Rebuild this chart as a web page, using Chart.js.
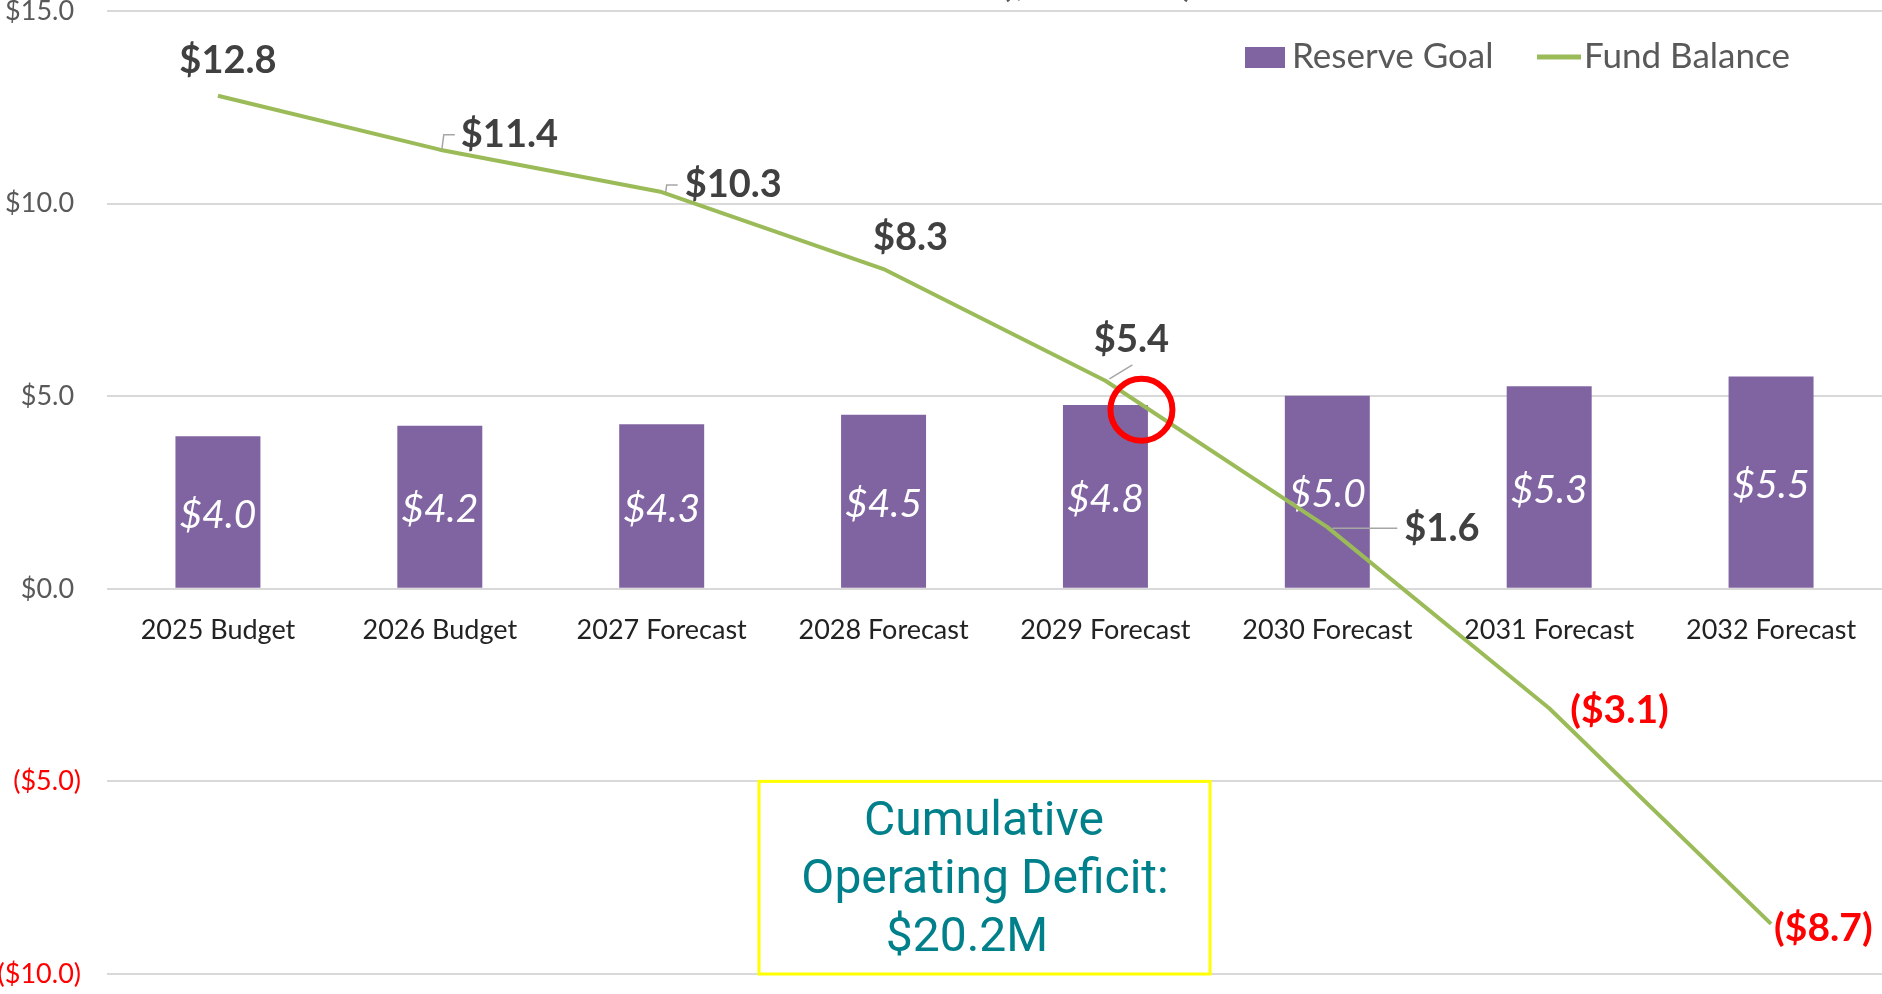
<!DOCTYPE html>
<html>
<head>
<meta charset="utf-8">
<script src="https://cdn.jsdelivr.net/npm/chart.js@4.4.1/dist/chart.umd.min.js"></script>
<style>
  html, body { margin: 0; padding: 0; background: #fff; }
  #wrap { width: 1882px; height: 994px; position: relative; }
</style>
</head>
<body>
<div id="wrap"><canvas id="fundChart"></canvas></div>
<script>
const categories = [
  "2025 Budget",
  "2026 Budget",
  "2027 Forecast",
  "2028 Forecast",
  "2029 Forecast",
  "2030 Forecast",
  "2031 Forecast",
  "2032 Forecast",
];
const reserveGoal = [3.96, 4.23, 4.27, 4.52, 4.77, 5.01, 5.26, 5.51];
const fundBalance = [12.8, 11.4, 10.3, 8.3, 5.4, 1.6, -3.1, -8.7];
const yTicks = [-10, -5, 0, 5, 10, 15];

const purple = "#8064a2";
const green = "#9bbb59";

// where each fund balance label sits, relative to its point
const lineLabelPos = [
  { align: "center", dx: 10, dy: -35 },
  { align: "left", dx: 21, dy: -15, leader: [[2, 0], [4, -15], [15, -15]] },
  { align: "left", dx: 23, dy: -7, leader: [[4, 0], [5, -7], [16, -7]] },
  { align: "center", dx: 27, dy: -31 },
  { align: "center", dx: 26, dy: -41, leader: [[4, -2], [27, -16]] },
  { align: "left", dx: 77, dy: 2, leader: [[5, 1], [70, 1]] },
  { align: "left", dx: 21, dy: 2 },
  { align: "left", dx: 3, dy: 4 },
];

function money(v) {
  const s = "$" + Math.abs(v).toFixed(1);
  return v < 0 ? "(" + s + ")" : s;
}

const overlay = {
  id: "overlay",
  afterDatasetDraw(chart, args) {
    if (args.index !== 0) return;
    const ctx = chart.ctx;
    ctx.save();
    ctx.font = "italic 39px Lato";
    ctx.fillStyle = "#ffffff";
    ctx.textAlign = "center";
    ctx.textBaseline = "middle";
    args.meta.data.forEach((bar, i) => {
      ctx.fillText(money(reserveGoal[i]), bar.x, (bar.y + bar.base) / 2 + 3);
    });
    ctx.restore();
  },
  afterDatasetsDraw(chart) {
    const ctx = chart.ctx;
    const pts = chart.getDatasetMeta(1).data;
    ctx.save();
    ctx.textBaseline = "middle";
    pts.forEach((p, i) => {
      const pos = lineLabelPos[i];
      if (pos.leader) {
        ctx.strokeStyle = "#a6a6a6";
        ctx.lineWidth = 1.5;
        ctx.beginPath();
        pos.leader.forEach((q, k) => {
          if (k === 0) ctx.moveTo(p.x + q[0], p.y + q[1]);
          else ctx.lineTo(p.x + q[0], p.y + q[1]);
        });
        ctx.stroke();
      }
      const neg = fundBalance[i] < 0;
      ctx.font = neg ? "bold 39px Lato" : "bold 38px Lato";
      ctx.textAlign = pos.align;
      ctx.fillStyle = neg ? "#ff0000" : "#404040";
      ctx.fillText(money(fundBalance[i]), p.x + pos.dx, p.y + pos.dy);
    });
    ctx.restore();
  },
  afterDraw(chart) {
    const ctx = chart.ctx;
    const x = chart.scales.x;
    const y = chart.scales.y;
    ctx.save();

    // title, mostly cut off at the top edge
    ctx.font = "bold 32px Lato";
    ctx.fillStyle = "#595959";
    ctx.textAlign = "center";
    ctx.textBaseline = "alphabetic";
    ctx.fillText("($ in Millions)", 1097, -3);

    // legend
    const ds = chart.data.datasets;
    ctx.font = "35px Lato";
    ctx.textAlign = "left";
    ctx.textBaseline = "middle";
    ctx.fillStyle = ds[0].backgroundColor;
    ctx.fillRect(1245, 47, 40, 21);
    ctx.fillStyle = "#595959";
    ctx.fillText(ds[0].label, 1292, 57);
    ctx.strokeStyle = ds[1].borderColor;
    ctx.lineWidth = 5;
    ctx.beginPath();
    ctx.moveTo(1537, 57);
    ctx.lineTo(1581, 57);
    ctx.stroke();
    ctx.fillStyle = "#595959";
    ctx.fillText(ds[1].label, 1584, 57);

    // red circle where the balance drops under the goal
    ctx.strokeStyle = "#ff0000";
    ctx.lineWidth = 6;
    ctx.beginPath();
    ctx.arc(x.getPixelForValue(4) + 36, y.getPixelForValue(4.65), 31, 0, Math.PI * 2);
    ctx.stroke();

    // deficit box
    const top = y.getPixelForValue(-5);
    const bottom = y.getPixelForValue(-10);
    ctx.fillStyle = "#ffffff";
    ctx.fillRect(759, top, 451, bottom - top);
    ctx.strokeStyle = "#ffff00";
    ctx.lineWidth = 3;
    ctx.strokeRect(759, top, 451, bottom - top);
    ctx.font = "48px Roboto";
    ctx.fillStyle = "#00808a";
    ctx.textAlign = "center";
    ctx.fillText("Cumulative", 984, 823);
    ctx.fillText("Operating Deficit:", 985, 881);
    ctx.fillText("$20.2M", 967, 939);

    ctx.restore();
  },
};

new Chart(document.getElementById("fundChart"), {
  type: "bar",
  data: {
    labels: categories,
    datasets: [
      {
        type: "bar",
        label: "Reserve Goal",
        data: reserveGoal,
        backgroundColor: purple,
        barPercentage: 0.383,
        categoryPercentage: 1,
        order: 1,
      },
      {
        type: "line",
        label: "Fund Balance",
        data: fundBalance,
        borderColor: green,
        borderWidth: 4,
        pointRadius: 0,
        tension: 0,
        borderJoinStyle: "round",
        order: 0,
      },
    ],
  },
  options: {
    responsive: true,
    maintainAspectRatio: false,
    animation: false,
    events: [],
    layout: { padding: { top: 11, bottom: 20, left: 0, right: 0 } },
    plugins: {
      legend: { display: false },
      tooltip: { enabled: false },
    },
    scales: {
      x: {
        position: { y: 0 },
        grid: { display: false },
        border: { display: false },
        ticks: {
          autoSkip: false,
          maxRotation: 0,
          padding: 17,
          color: "#222222",
          font: { family: "Lato", size: 27 },
        },
        afterFit(scale) {
          scale.paddingLeft = 0;
          scale.paddingRight = 0;
        },
      },
      y: {
        min: -10,
        max: 15,
        afterBuildTicks(scale) {
          scale.ticks = yTicks.map((v) => ({ value: v }));
        },
        grid: { color: "#d9d9d9", lineWidth: 2, drawTicks: false },
        border: { display: false },
        ticks: {
          padding: 26,
          font: { family: "Lato", size: 27 },
          color: (c) => (c.tick.value < 0 ? "#ff0000" : "#595959"),
          // positives keep room for the closing paren, like the source
          callback: (v) => (v < 0 ? money(v) : money(v) + " "),
        },
        afterFit(scale) {
          scale.width = 107;
          scale.paddingTop = 0;
          scale.paddingBottom = 0;
        },
      },
    },
  },
  plugins: [overlay],
});
</script>
</body>
</html>
